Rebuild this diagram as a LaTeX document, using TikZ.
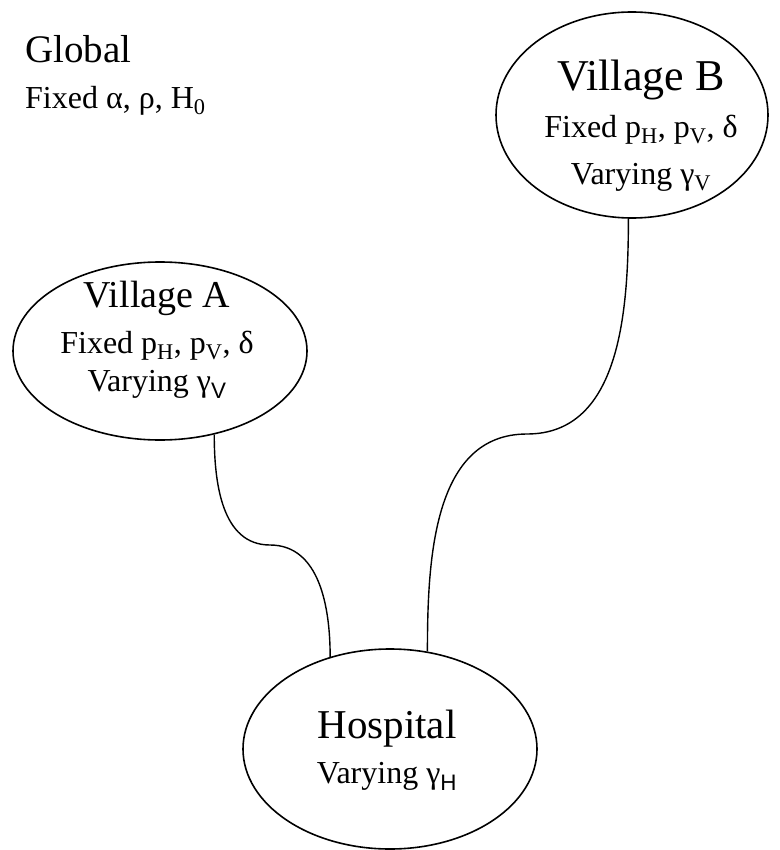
\documentclass[tikz,border=0pt]{standalone}
\usepackage{fontspec}
\setmainfont{Liberation Serif}
\newfontfamily\subsans{Liberation Sans}
\usetikzlibrary{shapes.geometric}

\begin{document}
\begin{tikzpicture}[x=1pt, y=1pt,
	place/.style={shape=ellipse, draw=black, line width=1.6pt, inner sep=0pt},
	words/.style={inner sep=0pt, align=center, font=\fontsize{32}{47}\selectfont},
	link/.style={draw=black, line width=1.4pt}]
	\useasboundingbox (0,0) rectangle (779,-850);

	\draw (25,-75) node[anchor=west, inner sep=0pt, align=left,
					 font=\fontsize{32}{46}\selectfont](globalinfo)
		{{\fontsize{39}{46}\selectfont Global}\\Fixed α, ρ, H\textsubscript{0}};

	\draw (632,-115) node[place, 
					 minimum width=272pt,
					 minimum height=206pt](villageB){};
	\draw (641,-126) node[words](villageBtext)
		{{\fontsize{44}{47}\selectfont Village B}\\
		 Fixed p\textsubscript{H}, p\textsubscript{V}, δ\\
		 Varying γ\textsubscript{V}};

	\draw (160,-351) node[place, 
					 minimum width=294pt,
					 minimum height=178pt](villageA){};
	\draw (157,-340) node[words, font=\fontsize{32}{46}\selectfont](villageAtext)
		{{\fontsize{38}{46}\selectfont Village A}\\
		 Fixed p\textsubscript{H}, p\textsubscript{V}, δ\\[-8pt]
		 Varying γ\textsubscript{\subsans V}};

	\draw (390,-749) node[place, 
					 minimum width=294pt,
					 minimum height=200pt](hospital){};
	\draw (387,-750) node[words, font=\fontsize{32}{45}\selectfont](hospitaltext)
		{{\fontsize{41}{45}\selectfont Hospital}\\
		 Varying γ\textsubscript{\subsans H}};

	\coordinate (bendA) at (270,-545);
	\coordinate (bendB) at (527,-434);

	\draw [link](villageA.-57) to[out=-90, in=180] (bendA)
		to[out=0, in=90] (hospital.123);
	\draw [link](villageB.-92) to[out=-90, in=0] (bendB)
		to[out=180, in=90] (hospital.69);
\end{tikzpicture}
\end{document}
